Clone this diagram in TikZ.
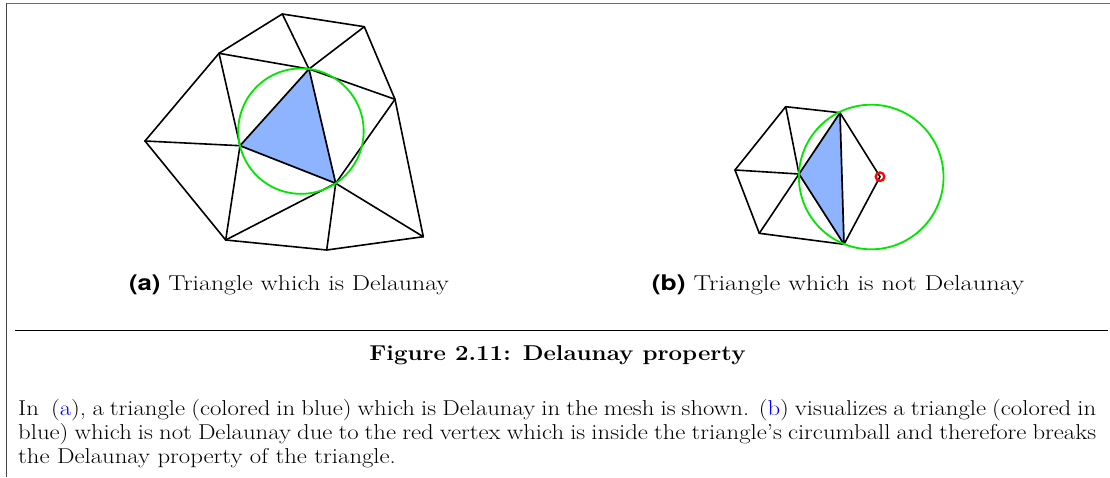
\documentclass[tikz,border=0pt]{standalone}
\usepackage{graphicx}
\usepackage{fontspec}
\newfontfamily\labfont{TeX Gyre Heros}
\definecolor{meshblue}{RGB}{143,180,255}
\definecolor{meshgreen}{RGB}{0,230,0}
\definecolor{linkblue}{RGB}{0,0,255}
\definecolor{framegray}{RGB}{110,110,110}
\definecolor{framedark}{RGB}{70,70,70}
\newcommand{\hs}[2]{\scalebox{#1}[1]{#2}}
\begin{document}
\begin{tikzpicture}[x=1pt,y=-1pt,
  edge/.style={line width=1.6pt,line join=round,line cap=round},
  bluetri/.style={draw=black,line width=1.7pt,line join=round},
  circum/.style={draw=meshgreen,line width=1.8pt},
  txt/.style={inner sep=0pt,anchor=base,font=\fontsize{21.5}{24}\selectfont},
  bodyline/.style={inner sep=0pt,anchor=base west,font=\fontsize{21.5}{24}\selectfont}]
\useasboundingbox (0,0) rectangle (1110,477);
% frame
\coordinate (tl) at (6,3.5);
\coordinate (tr) at (1110,3.5);
\coordinate (lt) at (6.5,3);
\coordinate (bl) at (6.5,477);
\draw[framegray,line width=1.6pt] (tl) -- (tr);
\draw[framedark,line width=1.6pt] (lt) -- (bl);
\coordinate (rl) at (15,330);
\coordinate (rr) at (1108,330);
\draw[line width=1pt] (rl) -- (rr);
% ---------- mesh (a)
\coordinate (A) at (282.3,14);
\coordinate (B) at (364.3,26.7);
\coordinate (C) at (219,53.3);
\coordinate (D) at (309,69);
\coordinate (E) at (395,99.3);
\coordinate (F) at (145,141);
\coordinate (G) at (240,145.7);
\coordinate (H) at (335.7,183.3);
\coordinate (I) at (225.7,240);
\coordinate (J) at (326.7,250);
\coordinate (K) at (423.3,236.7);
\fill[meshblue] (D) -- (G) -- (H) -- cycle;
\draw[edge] (A) -- (B);
\draw[edge] (A) -- (C);
\draw[edge] (A) -- (D);
\draw[edge] (B) -- (D);
\draw[edge] (B) -- (E);
\draw[edge] (C) -- (D);
\draw[edge] (C) -- (F);
\draw[edge] (C) -- (G);
\draw[edge] (D) -- (E);
\draw[edge] (E) -- (H);
\draw[edge] (E) -- (K);
\draw[edge] (F) -- (G);
\draw[edge] (F) -- (I);
\draw[edge] (G) -- (I);
\draw[edge] (I) -- (H);
\draw[edge] (I) -- (J);
\draw[edge] (H) -- (J);
\draw[edge] (J) -- (K);
\draw[edge] (H) -- (K);
\draw[bluetri] (D) -- (G) -- (H) -- cycle;
\coordinate (ca) at (300.95,131.15);
\draw[circum] (ca) circle[radius=62.7];
% ---------- mesh (b)
\coordinate (P) at (785.7,106.7);
\coordinate (Q) at (840,112.7);
\coordinate (R) at (735,170);
\coordinate (S) at (799,174);
\coordinate (T) at (880,176.7);
\coordinate (U) at (759.3,233.3);
\coordinate (V) at (844,244.3);
\fill[meshblue] (Q) -- (S) -- (V) -- cycle;
\draw[edge] (P) -- (Q);
\draw[edge] (P) -- (R);
\draw[edge] (P) -- (S);
\draw[edge] (Q) -- (T);
\draw[edge] (T) -- (V);
\draw[edge] (R) -- (S);
\draw[edge] (R) -- (U);
\draw[edge] (S) -- (U);
\draw[edge] (U) -- (V);
\draw[bluetri] (Q) -- (S) -- (V) -- cycle;
\coordinate (cb) at (871.2,177);
\draw[circum] (cb) circle[radius=72.3];
\draw[red,line width=2.3pt] (T) circle[radius=4.3];
% ---------- captions
\node[txt] (capa) at (289,290) {\hs{1.2}{{\labfont\bfseries (a)} Triangle which is Delaunay}};
\node[txt] (capb) at (838,290) {\hs{1.23}{{\labfont\bfseries (b)} Triangle which is not Delaunay}};
\node[txt,font=\fontsize{21.5}{24}\selectfont\bfseries] (fig) at (557.5,360) {\hs{1.12}{Figure 2.11: Delaunay property}};
\node[bodyline] (l1) at (18,415) {\hs{1.15}{\makebox[937.4pt][s]{In \ (\textcolor{linkblue}{a}), a triangle (colored in blue) which is Delaunay in the mesh is shown. (\textcolor{linkblue}{b}) visualizes a triangle (colored in}}};
\node[bodyline] (l2) at (18,439) {\hs{1.15}{\makebox[937.4pt][s]{blue) which is not Delaunay due to the red vertex which is inside the triangle's circumball and therefore breaks}}};
\node[bodyline] (l3) at (18,463) {\hs{1.15}{the Delaunay property of the triangle.}};
\end{tikzpicture}
\end{document}
